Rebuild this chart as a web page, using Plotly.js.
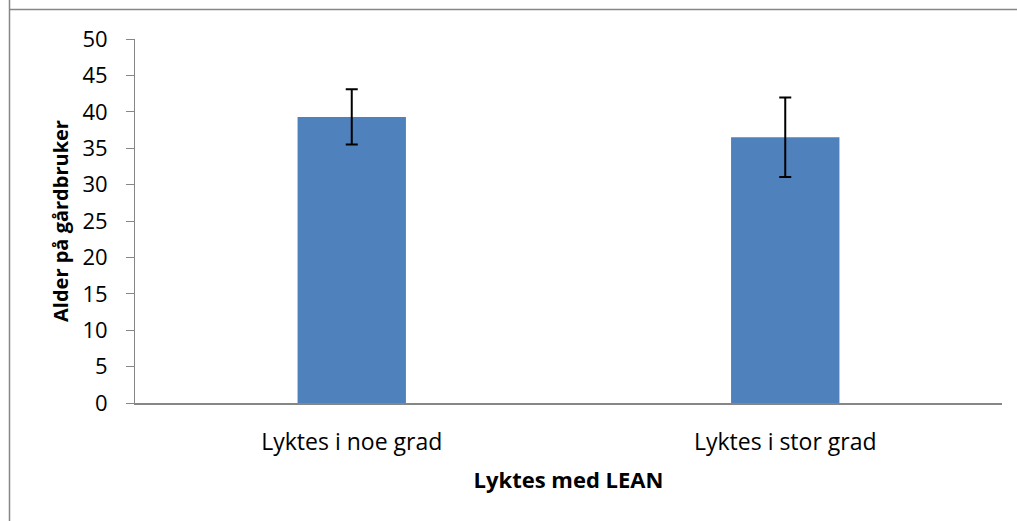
<!DOCTYPE html>
<html>
<head>
<meta charset="utf-8">
<script src="https://cdn.plot.ly/plotly-3.0.1.min.js"></script>
<style>html,body{margin:0;padding:0;background:#fff;}#chart{width:1017px;height:521px;}</style>
</head>
<body>
<div id="chart"></div>
<script>
const categories = ["Lyktes i noe grad", "Lyktes i stor grad"];
const meanAge = [39.3, 36.5];
const errorAge = [3.8, 5.45];
const yTickVals = [0, 5, 10, 15, 20, 25, 30, 35, 40, 45, 50];
const xTitle = "Lyktes med LEAN";
const yTitle = "Alder på gårdbruker";

const FONT = "'Open Sans', 'Noto Sans', sans-serif";

const trace = {
  type: "bar",
  x: categories,
  y: meanAge,
  marker: {color: "#4F81BD"},
  error_y: {type: "data", array: errorAge, visible: true, color: "#000000", thickness: 2, width: 6},
  hoverinfo: "x+y"
};

const layout = {
  width: 1017,
  height: 521,
  margin: {l: 135, r: 15, t: 39, b: 118},
  paper_bgcolor: "#ffffff",
  plot_bgcolor: "#ffffff",
  showlegend: false,
  bargap: 0.75,
  font: {family: FONT, color: "#000000"},
  xaxis: {
    type: "category",
    showline: true,
    linecolor: "#868686",
    linewidth: 2,
    ticks: "",
    showgrid: false,
    zeroline: false,
    tickfont: {family: FONT, size: 23, color: "#000"},
    ticklabelstandoff: 17,
    title: {text: xTitle, font: {family: FONT, size: 22, color: "#000", weight: "bold"}, standoff: 17}
  },
  yaxis: {
    range: [0, 50],
    tickvals: yTickVals,
    showline: true,
    linecolor: "#868686",
    linewidth: 1,
    ticks: "outside",
    ticklen: 8,
    tickcolor: "#868686",
    showgrid: false,
    zeroline: false,
    tickfont: {family: FONT, size: 22, color: "#000"},
    ticklabelstandoff: 14,
    title: {text: yTitle, font: {family: FONT, size: 20, color: "#000", weight: "bold"}, standoff: 8}
  },
  shapes: [
    {type: "line", xref: "paper", yref: "paper", x0: (9.5 - 135) / 867, x1: (9.5 - 135) / 867, y0: 1.2, y1: -0.5, line: {color: "#868686", width: 1.5}},
    {type: "line", xref: "paper", yref: "paper", x0: (9.5 - 135) / 867, x1: 1.05, y0: (403 - 9.5) / 364, y1: (403 - 9.5) / 364, line: {color: "#868686", width: 1.5}}
  ]
};

Plotly.newPlot("chart", [trace], layout, {displayModeBar: false, staticPlot: true});
</script>
</body>
</html>
